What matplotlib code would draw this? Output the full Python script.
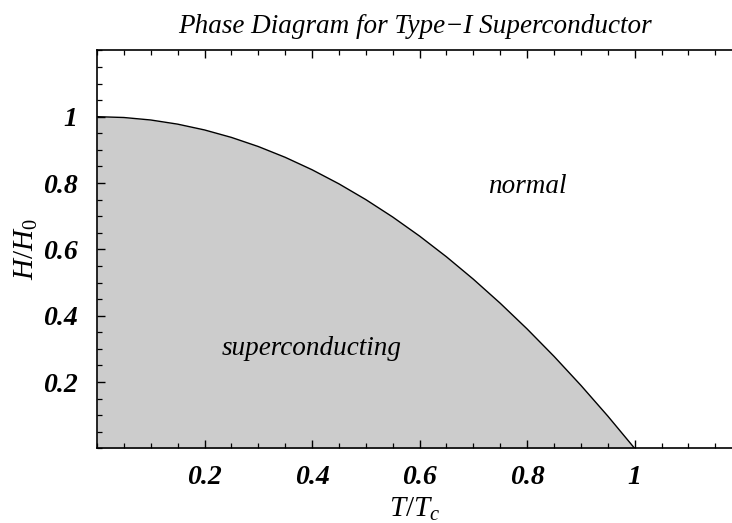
import matplotlib
matplotlib.use("Agg")
import matplotlib.pyplot as plt
from matplotlib.ticker import MultipleLocator, FixedLocator

t_vals = [0.0, 0.05, 0.10, 0.15, 0.20, 0.25, 0.30, 0.35, 0.40, 0.45, 0.50,
          0.55, 0.60, 0.65, 0.70, 0.75, 0.80, 0.85, 0.90, 0.95, 1.0]
h_vals = [1.0, 0.9975, 0.99, 0.9775, 0.96, 0.9375, 0.91, 0.8775, 0.84, 0.7975, 0.75,
          0.6975, 0.64, 0.5775, 0.51, 0.4375, 0.36, 0.2775, 0.19, 0.0975, 0.0]
x_ticks = [0.2, 0.4, 0.6, 0.8, 1.0]
x_tick_labels = ["0.2", "0.4", "0.6", "0.8", "1"]
y_ticks = [0.2, 0.4, 0.6, 0.8, 1.0]
y_tick_labels = ["0.2", "0.4", "0.6", "0.8", "1"]

title = "Phase Diagram for Type\u2212I Superconductor"

plt.rcParams['font.family'] = ['Liberation Serif', 'DejaVu Serif']
plt.rcParams['mathtext.fontset'] = 'custom'
plt.rcParams['mathtext.rm'] = 'Liberation Serif'
plt.rcParams['mathtext.it'] = 'Liberation Serif:italic'
plt.rcParams['mathtext.bf'] = 'Liberation Serif:bold'
plt.rcParams['mathtext.bfit'] = 'Liberation Serif:italic:bold'

fig = plt.figure(figsize=(7.32, 5.23), dpi=100)
W, H = 732, 523
left, right, top, bottom = 97, 732, 50, 448.4
ax = fig.add_axes([left / W, 1 - bottom / H, (right - left) / W, (bottom - top) / H])

ax.fill_between(t_vals, h_vals, 0, color="#cccccc", linewidth=0)
ax.plot(t_vals, h_vals, color="black", linewidth=1.0)

ax.set_xlim(0, 1.181)
ax.set_ylim(0, 1.201)

ax.xaxis.set_major_locator(FixedLocator(x_ticks))
ax.yaxis.set_major_locator(FixedLocator(y_ticks))
ax.xaxis.set_minor_locator(MultipleLocator(0.05))
ax.yaxis.set_minor_locator(MultipleLocator(0.05))
ax.set_xticklabels(x_tick_labels)
ax.set_yticklabels(y_tick_labels)

ax.spines['right'].set_visible(False)
for s in ['left', 'top', 'bottom']:
    ax.spines[s].set_linewidth(1.2)

ax.tick_params(which='both', direction='in', top=True, bottom=True, left=True, right=False,
               labeltop=False)
ax.tick_params(which='major', length=6, width=1.0)
ax.tick_params(which='minor', length=3.5, width=0.9)
ax.tick_params(axis='x', which='major', pad=12)
ax.tick_params(axis='y', which='major', pad=14)

for lbl in ax.get_xticklabels() + ax.get_yticklabels():
    lbl.set_fontstyle('italic')
    lbl.set_fontweight('bold')
    lbl.set_fontsize(20)

ax.set_xlabel(r"$\mathit{T/T_c}$", fontsize=21, labelpad=4)
ax.set_ylabel(r"$\mathit{H/H_0}$", fontsize=21, labelpad=2)

ax.set_title(title, fontsize=19.5, fontstyle='italic', pad=12)

ax.text(0.80, 0.79, "normal", fontsize=19.5, fontstyle='italic', ha='center', va='center')
ax.text(0.40, 0.30, "superconducting", fontsize=19.5, fontstyle='italic', ha='center', va='center')

fig.savefig("out.png", dpi=100)
